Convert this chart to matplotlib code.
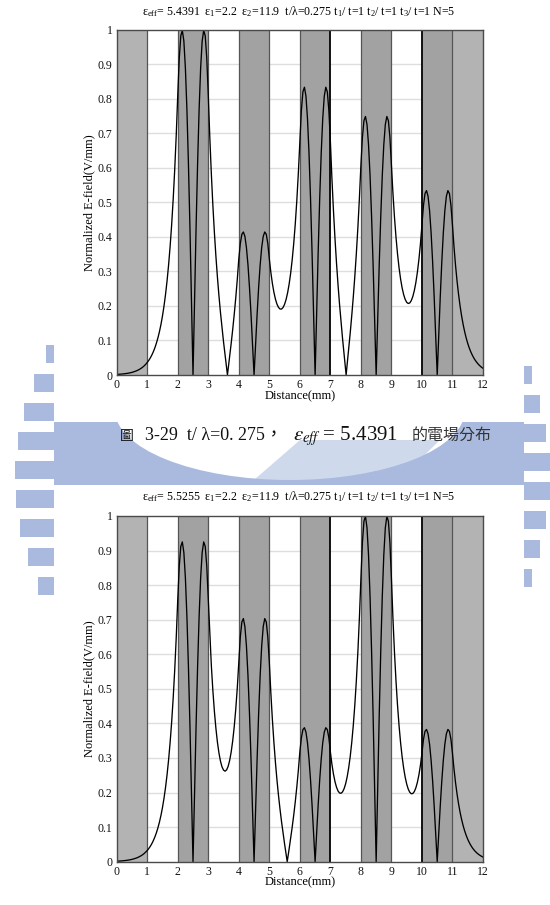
import numpy as np
import matplotlib
matplotlib.use('Agg')
import matplotlib.pyplot as plt
from matplotlib.patches import Rectangle, Ellipse, Polygon
from matplotlib.ticker import FixedLocator, FixedFormatter

plt.rcParams['font.family'] = ['Liberation Serif', 'DejaVu Serif']
plt.rcParams['mathtext.fontset'] = 'stix'

# ---------------- data ----------------
layer_edges = list(range(13))
layer_kind = ['outer', 'eps1', 'eps2', 'eps1', 'eps2', 'eps1',
              'eps2', 'eps1', 'eps2', 'eps1', 'eps2', 'outer']
bold_boundaries = [7, 10]

xtick_values = list(range(13))
xtick_labels = [str(v) for v in xtick_values]
ytick_values = [0, 0.1, 0.2, 0.3, 0.4, 0.5, 0.6, 0.7, 0.8, 0.9, 1.0]
ytick_labels = ['0', '0.1', '0.2', '0.3', '0.4', '0.5', '0.6', '0.7', '0.8', '0.9', '1']

top_eps_eff = '5.4391'
bottom_eps_eff = '5.5255'
eps1, eps2, t_over_lambda, n_periods = '2.2', '11.9', '0.275', '5'

# normalized |E| sampled every 0.05 mm from 0 to 12 mm
top_field = [
    0.0016, 0.0019, 0.0022, 0.0026, 0.0030, 0.0035, 0.0041, 0.0048, 0.0056, 0.0065,
    0.0076, 0.0089, 0.0104, 0.0122, 0.0142, 0.0166, 0.0194, 0.0227, 0.0265, 0.0310, 0.0362,
    0.0423, 0.0494, 0.0577, 0.0674, 0.0787, 0.0920, 0.1075, 0.1255, 0.1466, 0.1713,
    0.2001, 0.2337, 0.2731, 0.3190, 0.3727, 0.4354, 0.5087, 0.5942, 0.6942, 0.8110,
    0.919, 0.983, 0.999, 0.968, 0.890, 0.770, 0.612, 0.425, 0.218, 0.000,
    0.218, 0.425, 0.612, 0.770, 0.890, 0.968, 0.999, 0.983, 0.919, 0.811,
    0.6890, 0.5838, 0.4925, 0.4134, 0.3441, 0.2832, 0.2293, 0.1807, 0.1367, 0.0959,
    0.0575, 0.0204, 0.0161, 0.0530, 0.0913, 0.1317, 0.1755, 0.2233, 0.2766, 0.3366,
    0.3814, 0.4079, 0.4146, 0.4017, 0.3694, 0.3196, 0.2540, 0.1764, 0.0905, 0.0000,
    0.0905, 0.1764, 0.2540, 0.3196, 0.3694, 0.4017, 0.4146, 0.4079, 0.3814, 0.3366,
    0.2974, 0.2653, 0.2398, 0.2199, 0.2055, 0.1960, 0.1913, 0.1911, 0.1957, 0.2049,
    0.2192, 0.2387, 0.2642, 0.2958, 0.3347, 0.3817, 0.4379, 0.5048, 0.5840, 0.6772,
    0.7674, 0.8208, 0.8342, 0.8083, 0.7432, 0.6430, 0.5110, 0.3549, 0.1820, 0.0000,
    0.1820, 0.3549, 0.5110, 0.6430, 0.7432, 0.8083, 0.8342, 0.8208, 0.7674, 0.6772,
    0.5708, 0.4781, 0.3971, 0.3257, 0.2622, 0.2050, 0.1529, 0.1044, 0.0584, 0.0139,
    0.0302, 0.0752, 0.1220, 0.1717, 0.2255, 0.2849, 0.3511, 0.4258, 0.5109, 0.6083,
    0.6893, 0.7373, 0.7493, 0.7260, 0.6675, 0.5775, 0.4590, 0.3188, 0.1635, 0.0000,
    0.1635, 0.3188, 0.4590, 0.5775, 0.6675, 0.7260, 0.7493, 0.7373, 0.6893, 0.6083,
    0.5263, 0.4572, 0.3991, 0.3507, 0.3108, 0.2783, 0.2527, 0.2332, 0.2193, 0.2107,
    0.2073, 0.2088, 0.2155, 0.2273, 0.2446, 0.2678, 0.2976, 0.3346, 0.3796, 0.4339,
    0.4917, 0.5259, 0.5345, 0.5179, 0.4762, 0.4120, 0.3274, 0.2274, 0.1166, 0.0000,
    0.1166, 0.2274, 0.3274, 0.4120, 0.4762, 0.5179, 0.5345, 0.5259, 0.4917, 0.4339,
    0.3714, 0.3179, 0.2721, 0.2330, 0.1994, 0.1707, 0.1461, 0.1251, 0.1070, 0.0916,
    0.0784, 0.0671, 0.0575, 0.0492, 0.0421, 0.0361, 0.0309, 0.0264, 0.0226, 0.0194,
]
top_nulls = [3.628, 7.516]

bottom_field = [
    0.0014, 0.0016, 0.0019, 0.0022, 0.0026, 0.0031, 0.0036, 0.0042, 0.0049, 0.0057,
    0.0067, 0.0079, 0.0092, 0.0108, 0.0126, 0.0148, 0.0173, 0.0203, 0.0237, 0.0278, 0.0325,
    0.0380, 0.0444, 0.0520, 0.0610, 0.0714, 0.0835, 0.0978, 0.1145, 0.1340, 0.1569,
    0.1837, 0.2150, 0.2517, 0.2946, 0.3449, 0.4038, 0.4727, 0.5534, 0.6478, 0.7584,
    0.8559, 0.9120, 0.9251, 0.8943, 0.8214, 0.7093, 0.5637, 0.3913, 0.2004, 0.0000,
    0.2004, 0.3913, 0.5637, 0.7093, 0.8214, 0.8943, 0.9251, 0.9120, 0.8559, 0.7584,
    0.6551, 0.5682, 0.4955, 0.4352, 0.3856, 0.3455, 0.3142, 0.2907, 0.2743, 0.2649,
    0.2619, 0.2655, 0.2756, 0.2927, 0.3171, 0.3494, 0.3902, 0.4409, 0.5024, 0.5766,
    0.6507, 0.6934, 0.7033, 0.6799, 0.6244, 0.5393, 0.4286, 0.2975, 0.1523, 0.0000,
    0.1523, 0.2975, 0.4286, 0.5393, 0.6244, 0.6799, 0.7033, 0.6934, 0.6507, 0.5766,
    0.4879, 0.4114, 0.3451, 0.2873, 0.2366, 0.1919, 0.1521, 0.1158, 0.0826, 0.0513,
    0.0214, 0.0080, 0.0377, 0.0682, 0.1004, 0.1352, 0.1733, 0.2157, 0.2635, 0.3178,
    0.3586, 0.3821, 0.3876, 0.3747, 0.3442, 0.2972, 0.2362, 0.1640, 0.0840, 0.0000,
    0.0840, 0.1640, 0.2362, 0.2972, 0.3442, 0.3747, 0.3876, 0.3821, 0.3586, 0.3178,
    0.2823, 0.2540, 0.2319, 0.2157, 0.2047, 0.1988, 0.1980, 0.2021, 0.2112, 0.2255,
    0.2454, 0.2716, 0.3043, 0.3447, 0.3936, 0.4525, 0.5223, 0.6054, 0.7035, 0.8190,
    0.9243, 0.9849, 0.9990, 0.9658, 0.8870, 0.7660, 0.6088, 0.4226, 0.2164, 0.0000,
    0.2164, 0.4226, 0.6088, 0.7660, 0.8870, 0.9658, 0.9990, 0.9849, 0.9243, 0.8190,
    0.7034, 0.6053, 0.5222, 0.4522, 0.3934, 0.3443, 0.3039, 0.2709, 0.2448, 0.2247,
    0.2102, 0.2010, 0.1966, 0.1973, 0.2028, 0.2135, 0.2294, 0.2510, 0.2788, 0.3136,
    0.3540, 0.3772, 0.3826, 0.3699, 0.3397, 0.2934, 0.2332, 0.1619, 0.0829, 0.0000,
    0.0829, 0.1619, 0.2332, 0.2934, 0.3397, 0.3699, 0.3826, 0.3772, 0.3540, 0.3137,
    0.2680, 0.2289, 0.1955, 0.1670, 0.1427, 0.1219, 0.1041, 0.0889, 0.0760, 0.0649,
    0.0554, 0.0474, 0.0404, 0.0345, 0.0295, 0.0252, 0.0215, 0.0184, 0.0157, 0.0134,
]
bottom_nulls = [5.586]

caption_parts = ['圖', '3-29  t/ λ=0. 275，', '$\\varepsilon_{eff}$ = 5.4391', '的電場分布']

# ---------------- style ----------------
W, H = 550, 905
kind_color = {'outer': '#b3b3b3', 'eps1': '#ffffff', 'eps2': '#a2a2a2'}
wm_color = '#a9bade'

fig = plt.figure(figsize=(W / 100, H / 100), dpi=100)
fig.patch.set_facecolor('white')

# background watermark layer (pixel coordinates)
bg = fig.add_axes([0, 0, 1, 1], zorder=-10)
bg.set_xlim(0, W)
bg.set_ylim(H, 0)
bg.axis('off')
bg.add_patch(Rectangle((54, 422), 470, 63, color=wm_color, lw=0))
bg.add_patch(Ellipse((290, 410), 350, 140, color='white', lw=0))
bg.add_patch(Polygon([(247, 486), (393, 486), (440, 440), (300, 440)], closed=True,
                     color=wm_color, lw=0, alpha=0.55))
bg.add_patch(Ellipse((460, 468), 34, 40, color=wm_color, lw=0))
# left comb rays
for y0, x0 in [(345, 46), (374, 34), (403, 24), (432, 18), (461, 15),
               (490, 16), (519, 20), (548, 28), (577, 38)]:
    bg.add_patch(Rectangle((x0, y0), 54 - x0, 18, color=wm_color, lw=0))
# right comb rays
for y0, x1 in [(366, 532), (395, 540), (424, 546), (453, 550),
               (482, 550), (511, 546), (540, 540), (569, 532)]:
    bg.add_patch(Rectangle((524, y0), x1 - 524, 18, color=wm_color, lw=0))
# white chart canvases covering the watermark
bg.add_patch(Rectangle((54, 0), 470, 422, color='white', lw=0))
bg.add_patch(Rectangle((54, 485), 470, 420, color='white', lw=0))


def px_axes(left, top, right, bottom):
    return [left / W, 1 - bottom / H, (right - left) / W, (bottom - top) / H]


def draw_panel(rect, field, nulls, eps_eff, title_y):
    ax = fig.add_axes(rect)
    ax.set_facecolor('white')
    grid = np.linspace(layer_edges[0], layer_edges[-1], len(field))
    xs = np.concatenate([grid, np.array(nulls)])
    ys = np.concatenate([np.array(field), np.zeros(len(nulls))])
    order = np.argsort(xs)
    for yv in ytick_values[1:-1]:
        ax.axhline(yv, color='#dedede', lw=1.0, zorder=1)
    for a, b, k in zip(layer_edges[:-1], layer_edges[1:], layer_kind):
        if k != 'eps1':
            ax.axvspan(a, b, color=kind_color[k], lw=0, zorder=2)
    for xb in layer_edges[1:-1]:
        if xb in bold_boundaries:
            ax.axvline(xb, color='#111111', lw=1.4, zorder=3)
        else:
            ax.axvline(xb, color='#555555', lw=0.9, zorder=3)
    ax.plot(xs[order], ys[order], color='black', lw=0.95, zorder=4)
    ax.set_xlim(layer_edges[0], layer_edges[-1])
    ax.set_ylim(0, 1)
    ax.xaxis.set_major_locator(FixedLocator(xtick_values))
    ax.xaxis.set_major_formatter(FixedFormatter(xtick_labels))
    ax.yaxis.set_major_locator(FixedLocator(ytick_values))
    ax.yaxis.set_major_formatter(FixedFormatter(ytick_labels))
    ax.tick_params(length=0, labelsize=8.5, pad=3, colors='#111111')
    for s in ax.spines.values():
        s.set_color('#4a4a4a')
        s.set_linewidth(1.0)
        s.set_zorder(6)
    ax.set_xlabel('Distance(mm)', fontsize=9)
    ax.xaxis.set_label_coords(0.5, -0.043)
    ax.set_ylabel('Normalized E-field(V/mm)', fontsize=9)
    ax.yaxis.set_label_coords(-0.058, 0.5)
    title = ('$\\mathregular{ε_{eff}}$= ' + eps_eff + '  $\\mathregular{ε_{1}}$=' + eps1 +
             '  $\\mathregular{ε_{2}}$=' + eps2 + '  t/λ=' + t_over_lambda +
             ' $\\mathregular{t_{1}}$/ t=1 $\\mathregular{t_{2}}$/ t=1 $\\mathregular{t_{3}}$/ t=1 N=' + n_periods)
    fig.text(299 / W, 1 - title_y / H, title, ha='center', va='center', fontsize=8.6)
    return ax


draw_panel(px_axes(116.7, 30, 483, 375), top_field, top_nulls, top_eps_eff, 12)
draw_panel(px_axes(116.7, 516, 483, 861.7), bottom_field, bottom_nulls, bottom_eps_eff, 497)

# caption, assembled from pieces in different fonts
cap_base = 1 - 440 / H
fig.text(120 / W, cap_base, caption_parts[0], ha='left', va='baseline', fontsize=10,
         family=['Noto Sans CJK TC', 'DejaVu Sans'], color='#111111')
fig.text(145 / W, cap_base, caption_parts[1], ha='left', va='baseline', fontsize=13,
         family=['Liberation Serif', 'Noto Sans CJK TC'], color='#111111')
fig.text(293 / W, cap_base, caption_parts[2], ha='left', va='baseline', fontsize=15,
         color='#111111')
fig.text(412 / W, cap_base, caption_parts[3], ha='left', va='baseline', fontsize=11.5,
         family=['Noto Sans CJK TC', 'DejaVu Sans'], color='#333333')

fig.savefig('out.png', dpi=100, facecolor='white')
